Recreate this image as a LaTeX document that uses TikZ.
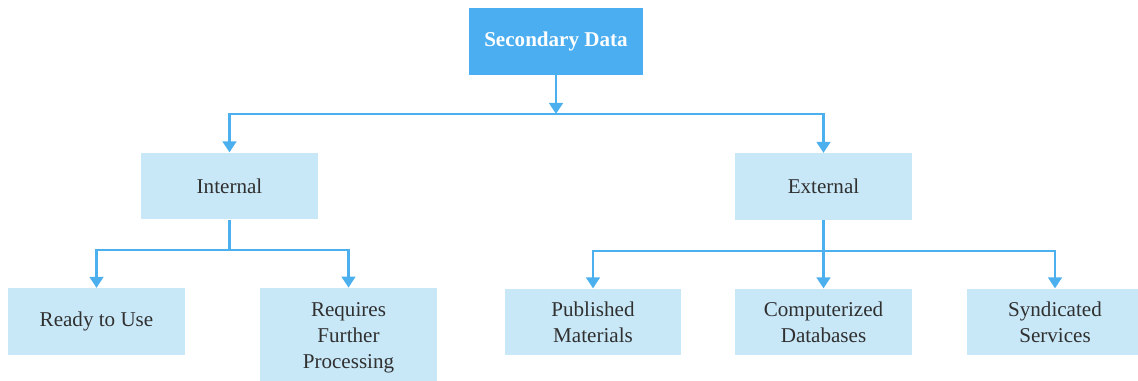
\documentclass[tikz,border=0pt]{standalone}
\usepackage{fontspec}
\setmainfont{Liberation Serif}
\usepackage{xcolor}
\usepackage{tikz}
\usetikzlibrary{arrows.meta, positioning, calc}

\definecolor{topblue}{HTML}{4BAEF0}
\definecolor{boxblue}{HTML}{C8E8F8}
\definecolor{lineblue}{HTML}{4DB0EE}
\definecolor{textgray}{HTML}{303030}

\begin{document}
\begin{tikzpicture}[
    x=0.02cm, y=-0.02cm,
    box/.style={rectangle, fill=boxblue, minimum width=3.54cm, minimum height=1.33cm, align=center, text=textgray, font=\rmfamily\fontsize{12pt}{14.8pt}\selectfont},
    head/.style={box, fill=topblue, minimum width=3.48cm, text=white, font=\rmfamily\fontsize{12pt}{14.8pt}\selectfont\bfseries},
    arrow/.style={-{Triangle[width=0.27cm, length=0.22cm]}, lineblue, line width=1.6pt},
    line/.style={lineblue, line width=1.6pt}
]
\useasboundingbox (0,0) rectangle (1138,381);
\clip (0,0) rectangle (1138,381);

% Top level
\node[head] (sec) at (556,41.5) {Secondary Data};

% Second level
\node[box] (int) at (229.5,186) {Internal};
\node[box] (ext) at (823.5,186.5) {External};

% Third level
\node[box] (ready) at (96.5,321.5) {Ready to Use};
\node[box, minimum height=2cm] (req) at (348.5,338) {Requires\\Further\\Processing};
\node[box] (pub) at (593,322) {Published\\Materials};
\node[box] (comp) at (823.5,322) {Computerized\\Databases};
\node[box] (synd) at (1055,322) {Syndicated\\Services};

% Junctions
\coordinate (j1) at (556,114);
\coordinate (j2) at (229.5,250);
\coordinate (j3) at (823.5,251);

\draw[arrow] (sec) -- (j1);
\draw[arrow] (j1) -| (int);
\draw[arrow] (j1) -| (ext);

\draw[line] (int) -- (j2);
\draw[arrow] (j2) -| (ready);
\draw[arrow] (j2) -| (req);

\draw[arrow] (ext) -- (comp);
\draw[arrow] (j3) -| (pub);
\draw[arrow] (j3) -| (synd);

\end{tikzpicture}
\end{document}
